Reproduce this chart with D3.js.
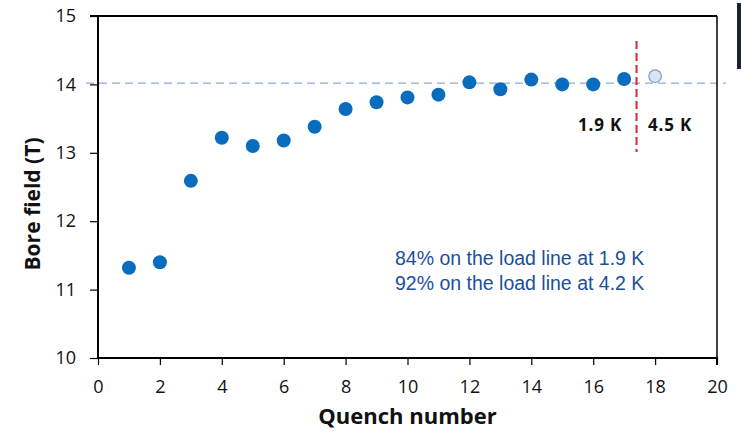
<!DOCTYPE html>
<html><head><meta charset="utf-8">
<script src="https://cdn.jsdelivr.net/npm/d3@7"></script>
<style>body{margin:0;background:#fff}svg{display:block}</style>
</head><body><svg id="c" width="741" height="432"></svg>
<script>
// Data
const quench19K = [1,2,3,4,5,6,7,8,9,10,11,12,13,14,15,16,17];
const field19K = [11.32,11.40,12.59,13.22,13.10,13.18,13.38,13.64,13.74,13.81,13.85,14.03,13.93,14.07,14.00,14.00,14.08];
const quench45K = [18];
const field45K = [14.12];
const xTicks = [0,2,4,6,8,10,12,14,16,18,20];
const yTicks = [10,11,12,13,14,15];
const refLevel = 14.02;
const tempBoundary = 17.4;
const notes = ["84% on the load line at 1.9 K","92% on the load line at 4.2 K"];
const tempLabels = ["1.9 K","4.5 K"];

const svg = d3.select("#c");
const L=98, R=717, T=16, B=358;
const x = d3.scaleLinear().domain([0,20]).range([L,R]);
const y = d3.scaleLinear().domain([10,15]).range([B,T]);
const font = "'Open Sans', 'Noto Sans', sans-serif";

// reference dashed line
svg.append("line").attr("x1",86).attr("x2",726).attr("y1",y(refLevel)).attr("y2",y(refLevel))
  .attr("stroke","#8eaadb").attr("stroke-width",1.3).attr("stroke-dasharray","8,5");

// frame top and right
svg.append("line").attr("x1",L).attr("x2",R).attr("y1",T).attr("y2",T).attr("stroke","#000").attr("stroke-width",2);
svg.append("line").attr("x1",R).attr("x2",R).attr("y1",T).attr("y2",B).attr("stroke","#000").attr("stroke-width",1.5);

// axes
const yAxis = svg.append("g").attr("transform",`translate(${L},0)`)
  .call(d3.axisLeft(y).tickValues(yTicks).tickFormat(d3.format("d")).tickSize(8).tickPadding(14));
const xAxis = svg.append("g").attr("transform",`translate(0,${B})`)
  .call(d3.axisBottom(x).tickValues(xTicks).tickFormat(d3.format("d")).tickSize(7).tickPadding(15));
[yAxis,xAxis].forEach(g=>{
  g.select(".domain").attr("stroke","#000").attr("stroke-width",2);
  g.selectAll(".tick line").attr("stroke","#000").attr("stroke-width",1.2);
  g.selectAll("text").attr("font-family",font).attr("font-size",18).attr("fill","#111");
});
yAxis.select(".domain").attr("d",`M-8,${T}H0V${B}`);
xAxis.select(".domain").attr("d",`M${L},0H${R}V7`);

// red vertical dashed line
svg.append("line").attr("x1",x(tempBoundary)).attr("x2",x(tempBoundary)).attr("y1",41).attr("y2",152)
  .attr("stroke","#e0242b").attr("stroke-width",2).attr("stroke-dasharray","8,4");

// points
svg.append("g").selectAll("circle").data(quench19K).join("circle")
  .attr("cx",d=>x(d)).attr("cy",(d,i)=>y(field19K[i])).attr("r",7).attr("fill","#0a6cbd");
svg.append("g").selectAll("circle").data(quench45K).join("circle")
  .attr("cx",d=>x(d)).attr("cy",(d,i)=>y(field45K[i])).attr("r",6.3)
  .attr("fill","#dbe4f3").attr("stroke","#7f9bcf").attr("stroke-width",1.2);

// temperature labels
svg.append("text").attr("x",622).attr("y",131).attr("text-anchor","end")
  .attr("font-family",font).attr("font-weight","bold").attr("font-size",17).attr("letter-spacing",0.8)
  .attr("fill","#111").text(tempLabels[0]);
svg.append("text").attr("x",648).attr("y",131).attr("text-anchor","start")
  .attr("font-family",font).attr("font-weight","bold").attr("font-size",17).attr("letter-spacing",0.8)
  .attr("fill","#111").text(tempLabels[1]);

// notes
svg.append("g").selectAll("text").data(notes).join("text")
  .attr("x",395).attr("y",(d,i)=>265+i*24.5)
  .attr("font-family","'Liberation Sans', Arial, sans-serif").attr("font-size",19.5).attr("fill","#1c4f9c").text(d=>d);

// axis titles
svg.append("text").attr("transform","translate(40,204) rotate(-90)").attr("text-anchor","middle")
  .attr("font-family",font).attr("font-weight","bold").attr("font-size",21).attr("fill","#111").text("Bore field (T)");
svg.append("text").attr("x",407.5).attr("y",424).attr("text-anchor","middle")
  .attr("font-family",font).attr("font-weight","bold").attr("font-size",22).attr("fill","#111").text("Quench number");

// dark strip at top right edge (image fragment)
svg.append("rect").attr("x",737).attr("y",3).attr("width",4).attr("height",66).attr("fill","#1b2232");
</script></body></html>
